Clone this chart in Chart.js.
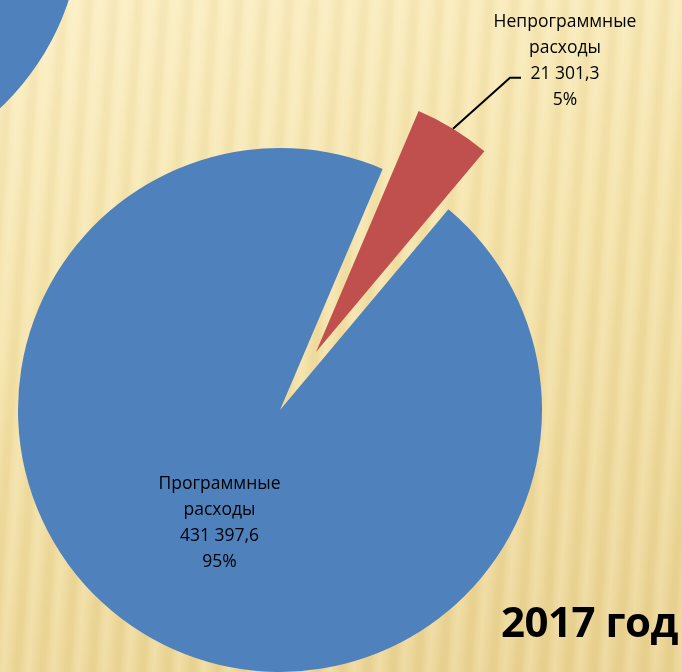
<!DOCTYPE html>
<html>
<head>
<meta charset="utf-8">
<script src="https://cdn.jsdelivr.net/npm/chart.js@4"></script>
<style>
  html, body { margin: 0; padding: 0; }
  body {
    width: 682px; height: 672px; overflow: hidden; position: relative;
    background:
      repeating-linear-gradient(94deg, rgba(255,252,230,0.22) 0px, rgba(255,250,225,0.08) 6px, rgba(190,160,80,0.07) 12px, rgba(190,160,80,0.07) 16px, rgba(255,250,225,0.08) 20px, rgba(255,252,230,0.22) 25px),
      linear-gradient(165deg, #fbeec3 0%, #f3e1a6 45%, #e9d190 100%);
  }
  canvas { position: absolute; }
  #year {
    position: absolute; right: 4px; top: 592px;
    font: bold 42px "Open Sans", "DejaVu Sans", sans-serif; color: #000;
    letter-spacing: -0.5px;
  }
</style>
</head>
<body>
<canvas id="prevChart" width="524" height="524"></canvas>
<canvas id="mainChart" width="682" height="672"></canvas>
<canvas id="redChart" width="682" height="672"></canvas>
<div id="year">2017 год</div>
<script>
// data (2017, тыс. руб.)
const categories = ["Программные расходы", "Непрограммные расходы"];
const labelLines = [["Программные", "расходы"], ["Непрограммные", "расходы"]];
const values = [431397.6, 21301.3];
const percents = ["95%", "5%"];
const valueTexts = ["431 397,6", "21 301,3"];
// previous year chart, only its edge is visible
const prevValues = [100];

const BLUE = "#4f81bd";
const RED = "#c0504d";
const RADIUS = 262;
const EXPLODE = 68;
const ROTATION = 40;
const FONT = '17.5px "Open Sans", "DejaVu Sans", sans-serif';

const total = values.reduce((s, v) => s + v, 0);
// move the red slice out along its middle angle
const redMid = (ROTATION + 360 * values[0] / total + 180 * values[1] / total) * Math.PI / 180;
const redCanvas = document.getElementById("redChart");
redCanvas.style.left = Math.round(Math.sin(redMid) * EXPLODE) + "px";
redCanvas.style.top = Math.round(-Math.cos(redMid) * EXPLODE) + "px";
document.getElementById("mainChart").style.left = "0px";
document.getElementById("mainChart").style.top = "0px";

const prevCanvas = document.getElementById("prevChart");
prevCanvas.style.left = "-442px";
prevCanvas.style.top = "-344px";

function baseOptions(plugins) {
    return {
        type: "pie",
        options: {
            responsive: false,
            animation: false,
            radius: RADIUS,
            rotation: ROTATION,
            layout: { padding: { left: 0, right: 122, top: 148, bottom: 0 } },
            plugins: { legend: { display: false }, tooltip: { enabled: false } },
            events: []
        },
        plugins
    };
}

const blueLabel = {
    id: "blueLabel",
    afterDatasetsDraw(chart) {
        const arc = chart.getDatasetMeta(0).data[0];
        const p = arc.getCenterPoint();
        const lines = [...labelLines[0], valueTexts[0], percents[0]];
        const ctx = chart.ctx;
        ctx.save();
        ctx.font = FONT;
        ctx.fillStyle = "#000";
        ctx.textAlign = "center";
        ctx.textBaseline = "middle";
        lines.forEach((t, i) => ctx.fillText(t, p.x + 8, p.y - 38 + i * 26));
        ctx.restore();
    }
};

const redLabel = {
    id: "redLabel",
    afterDatasetsDraw(chart) {
        const arc = chart.getDatasetMeta(0).data[1];
        const mid = (arc.startAngle + arc.endAngle) / 2;
        const x0 = arc.x + Math.cos(mid) * arc.outerRadius;
        const y0 = arc.y + Math.sin(mid) * arc.outerRadius;
        const ctx = chart.ctx;
        ctx.save();
        ctx.strokeStyle = "#000";
        ctx.lineWidth = 2;
        ctx.beginPath();
        ctx.moveTo(x0, y0);
        ctx.lineTo(x0 + 57, y0 - 51);
        ctx.lineTo(x0 + 68, y0 - 51);
        ctx.stroke();
        const lines = [...labelLines[1], valueTexts[1], percents[1]];
        ctx.font = FONT;
        ctx.fillStyle = "#000";
        ctx.textAlign = "center";
        ctx.textBaseline = "middle";
        lines.forEach((t, i) => ctx.fillText(t, x0 + 112, y0 - 107 + i * 26));
        ctx.restore();
    }
};

const mainCfg = baseOptions([blueLabel]);
mainCfg.data = {
    labels: categories,
    datasets: [{ data: values, backgroundColor: [BLUE, "rgba(0,0,0,0)"], borderWidth: 0, clip: false }]
};
new Chart(document.getElementById("mainChart"), mainCfg);

const redCfg = baseOptions([redLabel]);
redCfg.data = {
    labels: categories,
    datasets: [{ data: values, backgroundColor: ["rgba(0,0,0,0)", RED], borderWidth: 0, clip: false }]
};
new Chart(redCanvas, redCfg);

new Chart(prevCanvas, {
    type: "pie",
    data: {
        labels: ["2016"],
        datasets: [{ data: prevValues, backgroundColor: [BLUE], borderWidth: 0 }]
    },
    options: {
        responsive: false,
        animation: false,
        radius: RADIUS,
        plugins: { legend: { display: false }, tooltip: { enabled: false } },
        events: []
    }
});
</script>
</body>
</html>
